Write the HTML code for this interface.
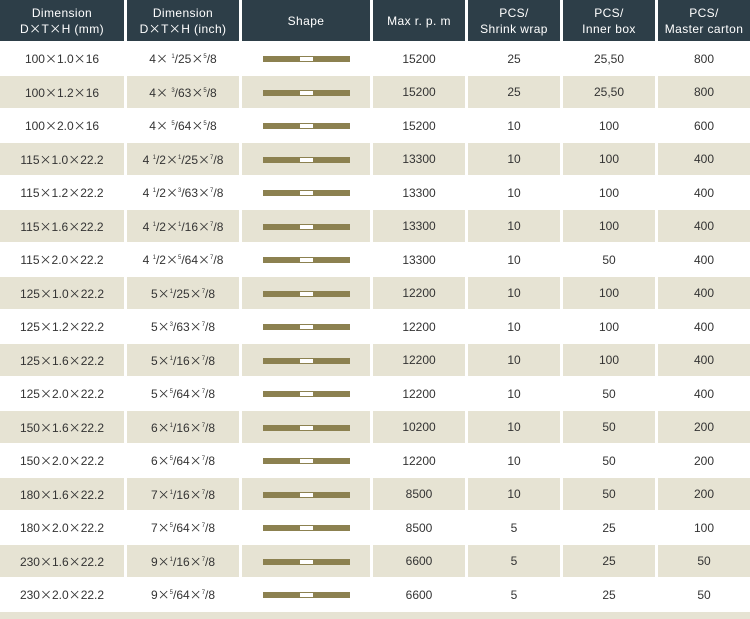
<!DOCTYPE html>
<html><head><meta charset="utf-8"><style>
html,body{margin:0;padding:0;background:#fff;width:750px;height:619px;overflow:hidden;}
table{border-collapse:separate;border-spacing:0;table-layout:fixed;width:750px;font-family:"Liberation Sans",Arial,sans-serif;font-size:12px;color:#333;}
td,th{border-right:3px solid #fff;border-bottom:2px solid #fff;text-align:center;padding:0;}
td:last-child,th:last-child{border-right:0;}
th{background:#2d3e48;color:#fff;font-weight:normal;height:41px;line-height:16px;font-size:12px;letter-spacing:0.4px;}
tr.b td{background:#e6e3d3;}
tr.r1 td{height:31px;}
tr.r2 td{height:32px;}
sup{font-size:6px;vertical-align:5px;line-height:0;}
i{font-style:normal;font-family:"Noto Sans CJK SC",sans-serif;}
.bar{display:inline-block;width:87px;height:6px;background:#8c8150;position:relative;vertical-align:middle;}
.bar:after{content:"";position:absolute;left:37px;top:1px;width:13px;height:4px;background:#fff;}
.foot{position:absolute;left:0;top:612px;width:750px;height:7px;background:#e6e3d3;}
</style></head><body>
<table>
<colgroup><col style="width:127px"><col style="width:115px"><col style="width:131px"><col style="width:95px"><col style="width:95px"><col style="width:95px"><col style="width:92px"></colgroup>
<tr><th>Dimension<br>D<i>×</i>T<i>×</i>H (mm)</th><th>Dimension<br>D<i>×</i>T<i>×</i>H (inch)</th><th>Shape</th><th>Max r. p. m</th><th>PCS/<br>Shrink wrap</th><th>PCS/<br>Inner box</th><th>PCS/<br>Master carton</th></tr>
<tr class="r1"><td>100<i>×</i>1.0<i>×</i>16</td><td>4<i>×</i> <sup>1</sup>/25<i>×</i><sup>5</sup>/8</td><td><span class="bar"></span></td><td>15200</td><td>25</td><td>25,50</td><td>800</td></tr>
<tr class="b r2"><td>100<i>×</i>1.2<i>×</i>16</td><td>4<i>×</i> <sup>3</sup>/63<i>×</i><sup>5</sup>/8</td><td><span class="bar"></span></td><td>15200</td><td>25</td><td>25,50</td><td>800</td></tr>
<tr class="r1"><td>100<i>×</i>2.0<i>×</i>16</td><td>4<i>×</i> <sup>5</sup>/64<i>×</i><sup>5</sup>/8</td><td><span class="bar"></span></td><td>15200</td><td>10</td><td>100</td><td>600</td></tr>
<tr class="b r2"><td>115<i>×</i>1.0<i>×</i>22.2</td><td>4 <sup>1</sup>/2<i>×</i><sup>1</sup>/25<i>×</i><sup>7</sup>/8</td><td><span class="bar"></span></td><td>13300</td><td>10</td><td>100</td><td>400</td></tr>
<tr class="r1"><td>115<i>×</i>1.2<i>×</i>22.2</td><td>4 <sup>1</sup>/2<i>×</i><sup>3</sup>/63<i>×</i><sup>7</sup>/8</td><td><span class="bar"></span></td><td>13300</td><td>10</td><td>100</td><td>400</td></tr>
<tr class="b r2"><td>115<i>×</i>1.6<i>×</i>22.2</td><td>4 <sup>1</sup>/2<i>×</i><sup>1</sup>/16<i>×</i><sup>7</sup>/8</td><td><span class="bar"></span></td><td>13300</td><td>10</td><td>100</td><td>400</td></tr>
<tr class="r1"><td>115<i>×</i>2.0<i>×</i>22.2</td><td>4 <sup>1</sup>/2<i>×</i><sup>5</sup>/64<i>×</i><sup>7</sup>/8</td><td><span class="bar"></span></td><td>13300</td><td>10</td><td>50</td><td>400</td></tr>
<tr class="b r2"><td>125<i>×</i>1.0<i>×</i>22.2</td><td>5<i>×</i><sup>1</sup>/25<i>×</i><sup>7</sup>/8</td><td><span class="bar"></span></td><td>12200</td><td>10</td><td>100</td><td>400</td></tr>
<tr class="r1"><td>125<i>×</i>1.2<i>×</i>22.2</td><td>5<i>×</i><sup>3</sup>/63<i>×</i><sup>7</sup>/8</td><td><span class="bar"></span></td><td>12200</td><td>10</td><td>100</td><td>400</td></tr>
<tr class="b r2"><td>125<i>×</i>1.6<i>×</i>22.2</td><td>5<i>×</i><sup>1</sup>/16<i>×</i><sup>7</sup>/8</td><td><span class="bar"></span></td><td>12200</td><td>10</td><td>100</td><td>400</td></tr>
<tr class="r1"><td>125<i>×</i>2.0<i>×</i>22.2</td><td>5<i>×</i><sup>5</sup>/64<i>×</i><sup>7</sup>/8</td><td><span class="bar"></span></td><td>12200</td><td>10</td><td>50</td><td>400</td></tr>
<tr class="b r2"><td>150<i>×</i>1.6<i>×</i>22.2</td><td>6<i>×</i><sup>1</sup>/16<i>×</i><sup>7</sup>/8</td><td><span class="bar"></span></td><td>10200</td><td>10</td><td>50</td><td>200</td></tr>
<tr class="r1"><td>150<i>×</i>2.0<i>×</i>22.2</td><td>6<i>×</i><sup>5</sup>/64<i>×</i><sup>7</sup>/8</td><td><span class="bar"></span></td><td>12200</td><td>10</td><td>50</td><td>200</td></tr>
<tr class="b r2"><td>180<i>×</i>1.6<i>×</i>22.2</td><td>7<i>×</i><sup>1</sup>/16<i>×</i><sup>7</sup>/8</td><td><span class="bar"></span></td><td>8500</td><td>10</td><td>50</td><td>200</td></tr>
<tr class="r1"><td>180<i>×</i>2.0<i>×</i>22.2</td><td>7<i>×</i><sup>5</sup>/64<i>×</i><sup>7</sup>/8</td><td><span class="bar"></span></td><td>8500</td><td>5</td><td>25</td><td>100</td></tr>
<tr class="b r2"><td>230<i>×</i>1.6<i>×</i>22.2</td><td>9<i>×</i><sup>1</sup>/16<i>×</i><sup>7</sup>/8</td><td><span class="bar"></span></td><td>6600</td><td>5</td><td>25</td><td>50</td></tr>
<tr class="r1"><td>230<i>×</i>2.0<i>×</i>22.2</td><td>9<i>×</i><sup>5</sup>/64<i>×</i><sup>7</sup>/8</td><td><span class="bar"></span></td><td>6600</td><td>5</td><td>25</td><td>50</td></tr>
</table>
<div class="foot"></div>
</body></html>
